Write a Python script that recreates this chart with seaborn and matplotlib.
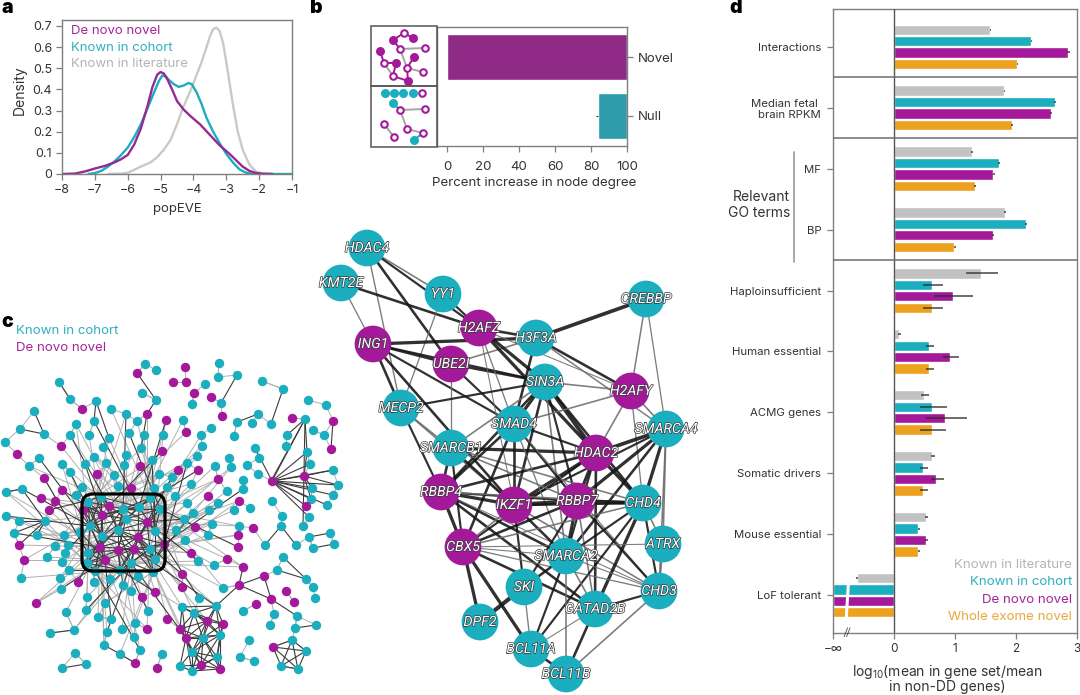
import numpy as np
import pandas as pd
import matplotlib
matplotlib.use('Agg')
import matplotlib.pyplot as plt
import matplotlib.patheffects as pe
from matplotlib.collections import LineCollection
from matplotlib.patches import FancyBboxPatch, Rectangle
import seaborn as sns

W, H = 1080, 695
TEXT = '#333333'
EDGE = '#7f7f7f'
GREY = '#c2c2c2'
TEAL = '#1aaebf'
MAGENTA = '#a3199a'
ORANGE = '#eca11f'

# panel a: density (popEVE, density)
novo_x = [-8, -7.6, -7.3, -7, -6.7, -6.4, -6.2, -6, -5.8, -5.6, -5.4, -5.25, -5.1, -5, -4.9, -4.8, -4.65, -4.5, -4.3, -4.1, -3.8, -3.5, -3.2, -2.9, -2.7, -2.5, -2.3, -2.1, -1.9, -1.6]
novo_y = [0, 0.002, 0.012, 0.026, 0.038, 0.055, 0.07, 0.09, 0.14, 0.215, 0.32, 0.41, 0.47, 0.482, 0.475, 0.45, 0.40, 0.345, 0.305, 0.275, 0.235, 0.185, 0.135, 0.095, 0.065, 0.035, 0.015, 0.005, 0.001, 0]
cohort_x = [-7.2, -7, -6.8, -6.6, -6.4, -6.2, -6, -5.8, -5.6, -5.4, -5.2, -5.05, -4.95, -4.85, -4.75, -4.6, -4.45, -4.3, -4.15, -4.05, -3.9, -3.75, -3.6, -3.4, -3.2, -3, -2.8, -2.6, -2.4, -2.2, -1.9, -1]
cohort_y = [0, 0.004, 0.015, 0.035, 0.06, 0.09, 0.125, 0.175, 0.235, 0.31, 0.385, 0.44, 0.465, 0.462, 0.445, 0.425, 0.412, 0.418, 0.43, 0.425, 0.385, 0.33, 0.265, 0.2, 0.145, 0.095, 0.055, 0.022, 0.006, 0.001, 0, 0]
lit_x = [-6.6, -6.2, -6, -5.8, -5.6, -5.3, -5.1, -4.9, -4.7, -4.5, -4.3, -4.1, -3.9, -3.75, -3.6, -3.5, -3.4, -3.3, -3.2, -3.1, -3, -2.9, -2.8, -2.65, -2.5, -2.3, -2.1, -1.9, -1.6]
lit_y = [0, 0.002, 0.006, 0.02, 0.035, 0.055, 0.08, 0.115, 0.16, 0.235, 0.32, 0.39, 0.47, 0.53, 0.6, 0.65, 0.685, 0.692, 0.675, 0.62, 0.53, 0.43, 0.33, 0.2, 0.115, 0.045, 0.012, 0.003, 0]

# panel b
degree_sets = ['Novel', 'Null']
degree_start = [0, 84]
degree_span = [100, 16]

# panel d
features = ['Interactions', 'Median fetal \nbrain RPKM', 'MF', 'BP', 'Haploinsufficient',
            'Human essential', 'ACMG genes', 'Somatic drivers', 'Mouse essential', 'LoF tolerant']
gene_sets = ['Known in literature', 'Known in cohort', 'De novo novel', 'Whole exome novel']
lit_val = [1.58, 1.81, 1.28, 1.82, 1.43, 0.09, 0.49, 0.63, 0.53, -0.60]
cohort_val = [2.25, 2.645, 1.72, 2.16, 0.62, 0.57, 0.63, 0.48, 0.40, -1.0]
novo_val = [2.85, 2.57, 1.63, 1.62, 0.96, 0.92, 0.84, 0.69, 0.52, -1.0]
wes_val = [2.02, 1.93, 1.32, 0.99, 0.62, 0.57, 0.63, 0.48, 0.40, -1.0]
lit_low = [1.57, 1.81, 1.27, 1.81, 1.18, 0.07, 0.44, 0.61, 0.51, -0.615]
lit_high = [1.59, 1.82, 1.29, 1.84, 1.70, 0.12, 0.57, 0.67, 0.55, -0.595]
cohort_low = [2.24, 2.63, 1.71, 2.15, 0.47, 0.52, 0.42, 0.42, 0.39, -1.0]
cohort_high = [2.27, 2.66, 1.73, 2.18, 0.80, 0.66, 0.87, 0.56, 0.42, -1.0]
novo_low = [2.84, 2.56, 1.62, 1.61, 0.66, 0.80, 0.52, 0.61, 0.50, -1.0]
novo_high = [2.88, 2.59, 1.65, 1.64, 1.29, 1.07, 1.20, 0.82, 0.56, -1.0]
wes_low = [2.01, 1.92, 1.31, 0.98, 0.47, 0.52, 0.43, 0.43, 0.39, -1.0]
wes_high = [2.04, 1.95, 1.34, 1.01, 0.80, 0.66, 0.85, 0.56, 0.42, -1.0]

# panel c nodes, figure pixels (x, y). Entries closer than 4 px are one node.
c_teal = [(145,364),(156,370),(59,382),(70,399),(96,401),(142,393),(156,400),(34,411),(111,409),(126,414),(137,421),
    (76,424),(94,421),(20,429),(44,434),(70,435),(89,435),(109,438),(129,433),(144,435),(163,435),(5,442),(103,447),
    (141,448),(39,458),(94,457),(126,455),(152,460),(29,466),(62,464),(85,464),(106,463),(124,465),(70,472),(114,475),
    (159,474),(172,477),(82,487),(118,486),(154,488),(167,487),(6,492),(22,489),(76,495),(101,497),(150,498),(175,496),
    (219,363),(218,377),(237,375),(205,384),(262,381),(283,389),(308,400),(192,404),(221,403),(326,405),(258,414),
    (183,420),(237,422),(252,423),(271,424),(305,419),(313,430),(324,435),(211,428),(201,435),(234,436),(287,435),
    (286,446),(202,446),(255,448),(307,452),(197,456),(229,458),(259,458),(310,464),(187,463),(215,466),(231,467),
    (247,465),(258,474),(333,470),(338,485),(243,480),(191,484),(243,489),(312,488),(333,495),(311,499),(227,491),
    (176,496),(272,501),(327,505),(187,503),(218,503),(250,508),(234,510),(209,510),(193,513),(282,516),(309,517),
    (184,519),(212,524),(239,526),(281,526),(303,526),(176,530),
    (6,516),(19,521),(45,521),(14,533),(37,535),(64,535),(80,532),(55,546),(68,545),(65,553),(47,557),(62,562),(69,570),
    (21,578),(60,578),(61,589),(87,597),(66,612),(86,610),(98,617),(105,603),(111,619),(94,582),(110,579),(123,585),
    (131,591),(138,576),(153,572),(148,611),(135,623),(122,629),(107,632),(134,637),(74,630),(50,633),(104,645),
    (120,654),(140,650),(75,653),(86,664),(62,668),(162,654),(180,666),(192,671),(192,652),(217,657),(240,657),
    (254,661),(281,666),(298,669),(306,651),(292,640),(249,640),(220,635),(203,638),(270,625),(295,628),(316,625),
    (274,614),(297,616),(243,611),(216,606),(194,613),(182,607),(199,598),(223,588),(214,565),(198,561),(185,540),
    (208,535),(213,524),(265,545),(296,545),(309,537),(330,533),(313,548),(334,544),(283,557),(277,570),(306,579),
    (313,587),(315,598),
    (123,509),(139,507),(160,509),(126,519),(90,526),(118,530),(155,531),(63,535),(102,536),(88,553),(150,549),
    (155,559),(131,563),(87,563),(95,571),(120,570),(154,570),(93,583),(88,502)]
c_magenta = [(137,373),(173,382),(82,409),(147,414),(166,420),(61,446),(17,454),(162,451),(140,466),(97,474),(44,478),
    (131,488),(178,470),(62,490),(41,498),(55,501),
    (185,367),(186,382),(194,393),(211,397),(222,416),(292,418),(333,421),(186,432),(331,449),(180,470),(198,470),
    (218,479),(304,476),(272,481),(208,496),(239,501),(306,506),(195,527),(253,528),
    (49,510),(19,545),(24,560),(78,582),(36,603),(142,597),(155,592),(167,619),(147,629),(135,663),(157,668),(180,629),
    (186,638),(207,621),(223,624),(201,665),(220,669),(273,647),(256,604),(271,599),(239,585),(264,576),(243,567),
    (227,559),(182,574),(182,587),(191,553),(238,547),(238,535),(286,591),(294,602),(164,544),
    (109,506),(83,510),(102,515),(147,522),(138,537),(100,547),(118,550),(134,549),(105,560)]

# panel c links that can be followed by eye: hub -> partners
c_fans = {
    (272,481): [(304,476),(310,464),(333,470),(338,485),(333,495),(327,505),(312,488),(311,499),(306,506),(307,452),(305,419),(309,517),(255,448)],
    (304,476): [(338,485),(333,470),(312,488),(311,499),(307,452)],
    (305,419): [(303,526),(307,452),(287,435),(271,481)],
    (45,521): [(19,521),(14,533),(19,545),(22,489),(37,535)],
    (273,647): [(292,640),(306,651),(281,666),(298,669)],
    (292,640): [(306,651),(281,666),(298,669)],
    (306,651): [(281,666),(298,669)],
    (281,666): [(298,669)],
    (265,545): [(281,526)],
    (281,526): [(296,545)],
    (283,557): [(306,579)],
    (277,570): [(306,579)],
    (264,576): [(239,585),(271,599)],
    (239,585): [(243,567),(271,599),(216,606)],
    (271,599): [(297,616)],
    (20,429): [(44,434)], (34,411): [(44,434)], (59,382): [(70,399)], (137,373): [(156,400)], (333,421): [(331,449)],
    (237,375): [(221,403)], (283,389): [(271,424)], (6,492): [(22,489)], (330,533): [(309,537)], (313,548): [(334,544)],
    (295,628): [(316,625)], (62,668): [(86,664)], (50,633): [(74,630)], (104,645): [(120,654)], (120,654): [(135,663)],
    (96,401): [(94,421),(109,438)], (147,414): [(141,448),(156,400)], (258,414): [(237,422)],
}

# panel b lower network
hub_names = ['HDAC4','KMT2E','YY1','CREBBP','H2AFZ','H3F3A','ING1','UBE2I','SIN3A','H2AFY','MECP2','SMAD4','SMARCA4',
             'SMARCB1','HDAC2','RBBP4','IKZF1','RBBP7','CHD4','ATRX','CBX5','SMARCA2','SKI','CHD3','GATAD2B','DPF2',
             'BCL11A','BCL11B']
hub_x = [367,341,443,646,479,536,373,451,545,631,401,514,666,451,596,441,514,577,643,663,463,566,524,659,595,480,531,566]
hub_y = [248,283,294,299,328,338,344,364,382,391,408,424,429,448,453,492,505,501,503,544,547,556,587,591,609,622,649,674]
hub_novel = ['H2AFZ','ING1','UBE2I','H2AFY','HDAC2','RBBP4','IKZF1','RBBP7','CBX5']
hub_links = [('HDAC4','YY1',1.5),('HDAC4','H2AFZ',2),('HDAC4','UBE2I',2.4),('HDAC4','MECP2',1.3),('KMT2E','H2AFZ',2.4),
    ('KMT2E','ING1',1.2),('YY1','H2AFZ',2),('YY1','MECP2',1.2),('H2AFZ','H3F3A',2.4),('CREBBP','H3F3A',3.4),
    ('CREBBP','H2AFY',1.4),('CREBBP','SMARCA4',1.2),('ING1','H3F3A',3),('ING1','UBE2I',2.4),('ING1','SIN3A',2),
    ('ING1','MECP2',2.4),('ING1','SMAD4',2),('ING1','IKZF1',2.4),('UBE2I','H3F3A',1.5),('UBE2I','SIN3A',2.4),
    ('UBE2I','SMAD4',2),('UBE2I','SMARCB1',1.2),('H2AFZ','SIN3A',3),('H2AFZ','SMAD4',1.2),('H2AFZ','HDAC2',3),
    ('H2AFZ','H2AFY',1),('H2AFZ','IKZF1',1),('H3F3A','SMAD4',2.4),('H3F3A','H2AFY',2.4),('H3F3A','SMARCA4',1.4),
    ('SIN3A','MECP2',2),('SIN3A','HDAC2',3.6),('SIN3A','SMAD4',3),('SIN3A','SMARCB1',1.5),('SIN3A','RBBP4',2.4),
    ('SIN3A','IKZF1',2.4),('SIN3A','RBBP7',2),('SIN3A','CHD4',2.4),('SIN3A','SMARCA2',1.5),('SIN3A','H2AFY',1.5),
    ('H2AFY','HDAC2',1.5),('H2AFY','SMARCA4',1.5),('H2AFY','SMAD4',1.5),('H2AFY','CHD4',1.2),('HDAC2','SMARCA4',3.4),
    ('HDAC2','SMAD4',2),('HDAC2','SMARCB1',3),('HDAC2','RBBP4',2.4),('HDAC2','IKZF1',3),('HDAC2','RBBP7',3),
    ('HDAC2','CHD4',3),('HDAC2','CBX5',2),('HDAC2','SMARCA2',2),('HDAC2','GATAD2B',2.4),('SMARCA4','CHD4',3),
    ('SMARCA4','RBBP7',3),('SMARCA4','SMARCA2',2.4),('SMARCA4','IKZF1',2),('SMARCA4','CHD3',1.5),('SMARCA4','ATRX',1.5),
    ('MECP2','RBBP4',2),('MECP2','SMARCB1',1.5),('MECP2','IKZF1',1.5),('SMARCB1','RBBP4',2.4),('SMARCB1','IKZF1',2.4),
    ('SMARCB1','CBX5',2),('SMARCB1','RBBP7',1.5),('SMARCB1','CHD4',1.5),('SMAD4','RBBP4',2.4),('SMAD4','CBX5',2.4),
    ('SMAD4','IKZF1',2.4),('SMAD4','RBBP7',2),('SMAD4','SMARCA2',1.2),('SMAD4','CHD3',1.2),('RBBP4','IKZF1',3),
    ('RBBP4','RBBP7',2),('RBBP4','CBX5',3),('RBBP4','CHD4',1.5),('RBBP4','SMARCA2',2.4),('RBBP4','GATAD2B',2.4),
    ('RBBP4','CHD3',1),('IKZF1','RBBP7',3.8),('IKZF1','CHD4',2.4),('IKZF1','SMARCA2',2.4),('IKZF1','SKI',2),
    ('IKZF1','CBX5',1.5),('IKZF1','CHD3',1.5),('RBBP7','CHD4',3.4),('RBBP7','CBX5',2.4),('RBBP7','SMARCA2',3),
    ('RBBP7','SKI',2),('RBBP7','CHD3',2),('RBBP7','GATAD2B',1.5),('CHD4','CBX5',1.5),('CHD4','SMARCA2',2),
    ('CHD4','GATAD2B',3),('CHD4','CHD3',2),('CHD4','BCL11A',2),('CBX5','ATRX',1),('CBX5','SMARCA2',1),('CBX5','CHD3',1.2),
    ('CBX5','DPF2',3),('CBX5','BCL11A',3),('CBX5','GATAD2B',2.4),('SKI','DPF2',3.8),('SKI','BCL11A',1.2),('SKI','SMARCA2',2.4),
    ('SMARCA2','BCL11A',2),('SMARCA2','BCL11B',1.5),('SMARCA2','GATAD2B',1.5),('SMARCA2','CHD3',1),('GATAD2B','CHD3',2),
    ('GATAD2B','BCL11A',1),('GATAD2B','BCL11B',2.4),('CHD3','BCL11B',1.5),('BCL11A','BCL11B',2.4),('ATRX','CHD4',1.5),
    ('ATRX','CHD3',1.5)]

# panel b sketches
top_open = [(404,33),(400,49),(425,48),(384,63),(407,68),(393,76),(423,72)]
top_full = [(413,38),(393,40),(380,51),(396,63),(414,57),(408,81)]
top_pink = [((404,33),(393,40)),((404,33),(413,38)),((393,40),(400,49)),((380,51),(384,63)),((384,63),(396,63)),
            ((396,63),(393,76)),((407,68),(414,57)),((407,68),(408,81)),((393,76),(408,81))]
top_grey = [((400,49),(425,48)),((400,49),(407,68)),((384,63),(393,76)),((407,68),(423,72))]
low_open = [(422,93),(400,110),(425,109),(407,129),(423,133),(384,124),(394,137)]
low_full = [(385,93),(394,93),(403,93),(413,93),(393,103),(414,140)]
low_teal = [((393,103),(400,110)),((414,140),(423,133))]
low_grey = [((400,110),(425,109)),((400,110),(407,129)),((407,129),(423,133)),((384,124),(394,137))]

sns.set_theme(style='ticks')
plt.rcParams['font.family'] = ['Inter', 'DejaVu Sans']
plt.rcParams['mathtext.fontset'] = 'custom'
plt.rcParams['mathtext.rm'] = 'Inter'
plt.rcParams['axes.edgecolor'] = EDGE
plt.rcParams['axes.linewidth'] = 1.0
plt.rcParams['text.color'] = TEXT
plt.rcParams['xtick.color'] = EDGE
plt.rcParams['ytick.color'] = EDGE
plt.rcParams['xtick.labelcolor'] = TEXT
plt.rcParams['ytick.labelcolor'] = TEXT

fig = plt.figure(figsize=(W / 100, H / 100), dpi=100)


def px_axes(left, top, right, bottom):
    return fig.add_axes([left / W, 1 - bottom / H, (right - left) / W, (bottom - top) / H])


# whole-figure layer in pixel coordinates for the networks and loose text
page = fig.add_axes([0, 0, 1, 1], zorder=10)
page.set_facecolor('none')
page.axis('off')


def note(x, y, s, size=9.5, color=TEXT, ha='left', va='center', **kw):
    page.text(x, y, s, fontsize=size, color=color, ha=ha, va=va, **kw)


def merged(points):
    kept = []
    for p in points:
        if all(np.hypot(p[0] - q[0], p[1] - q[1]) >= 4 for q in kept):
            kept.append(p)
    return kept


def nodes(points, color, size, open_node=False, zorder=4):
    xs, ys = zip(*points)
    if open_node:
        sns.scatterplot(x=list(xs), y=list(ys), ax=page, s=size, color='white', edgecolor=color,
                        linewidth=1.5, zorder=zorder, legend=False)
    else:
        sns.scatterplot(x=list(xs), y=list(ys), ax=page, s=size, color=color, linewidth=0, zorder=zorder, legend=False)


# ---- a ----
ax_a = px_axes(62, 20, 292, 174)
sns.lineplot(x=lit_x, y=lit_y, color='#c9c9c9', lw=1.7, ax=ax_a, estimator=None)
sns.lineplot(x=cohort_x, y=cohort_y, color=TEAL, lw=1.7, ax=ax_a, estimator=None)
sns.lineplot(x=novo_x, y=novo_y, color='#962a92', lw=1.7, ax=ax_a, estimator=None)
ax_a.set_xlim(-8, -1)
ax_a.set_ylim(0, 0.728)
ax_a.set_yticks(np.arange(0, 0.71, 0.1), ['0', '0.1', '0.2', '0.3', '0.4', '0.5', '0.6', '0.7'])
ax_a.set_xticks(range(-8, 0), ['\u2212%d' % abs(v) for v in range(-8, 0)])
ax_a.tick_params(labelsize=9, length=4, width=0.9, pad=3)
ax_a.set_xlabel('')
ax_a.set_ylabel('')
note(177, 209, 'popEVE', ha='center', size=9.5)
note(20, 90, 'Density', ha='center', rotation=90, size=10)
note(71, 31, 'De novo novel', color='#a4259a', size=9.5)
note(71, 48, 'Known in cohort', color='#2fb0bf', size=9.5)
note(71, 64, 'Known in literature', color='#b4b4b4', size=9.5)

# ---- b ----
ax_b = px_axes(437, 27, 627, 146)
sns.barplot(x=degree_span, y=degree_sets, hue=degree_sets, palette=['#8f2a87', '#2f9cab'], width=0.78,
            saturation=1, legend=False, ax=ax_b)
for bar, start in zip([c[0] for c in ax_b.containers], degree_start):
    bar.set_x(start)
ax_b.hlines(1, 83, 84, color=TEXT, lw=0.8)
ax_b.set_xlim(-5.5, 100)
ax_b.set_ylim(1.51, -0.51)
ax_b.yaxis.tick_right()
ax_b.set_xticks(range(0, 101, 20))
ax_b.tick_params(labelsize=9.5, length=4.5, width=0.9, pad=3)
ax_b.tick_params(axis='x', pad=6)
note(534, 183, 'Percent increase in node degree', ha='center', size=9.6)

page.add_patch(Rectangle((371, 26), 66, 60, fc='none', ec='#555555', lw=1.1, zorder=6))
page.add_patch(Rectangle((371, 86), 66, 61, fc='none', ec='#555555', lw=1.1, zorder=6))
page.add_collection(LineCollection(top_grey + low_grey, colors='#a5a5a5', linewidths=1.4, zorder=3))
page.add_collection(LineCollection(top_pink, colors=MAGENTA, linewidths=1.4, zorder=3))
page.add_collection(LineCollection(low_teal, colors=TEAL, linewidths=1.4, zorder=3))
nodes(top_full, MAGENTA, 42)
nodes(top_open, MAGENTA, 22, open_node=True)
nodes(low_full, TEAL, 42)
nodes(low_open, MAGENTA, 22, open_node=True)

# ---- b lower network ----
hub_pos = dict(zip(hub_names, zip(hub_x, hub_y)))
for a, b, w in hub_links:
    shade = '#141414' if w >= 1.8 else '#6a6a6a'
    page.plot([hub_pos[a][0], hub_pos[b][0]], [hub_pos[a][1], hub_pos[b][1]], color=shade, lw=w * 0.78,
              alpha=0.88, zorder=1, solid_capstyle='butt')
hub_table = pd.DataFrame({'x': hub_x, 'y': hub_y, 'name': hub_names})
hub_table['kind'] = np.where(hub_table['name'].isin(hub_novel), 'novel', 'known')
sns.scatterplot(data=hub_table, x='x', y='y', hue='kind', palette={'novel': MAGENTA, 'known': TEAL}, s=700,
                linewidth=0, legend=False, ax=page, zorder=2)
outline = [pe.withStroke(linewidth=1.0, foreground='#3a3a3a')]
for name, x, y in zip(hub_names, hub_x, hub_y):
    page.text(x, y, name, color='white', fontsize=10.2, style='italic', ha='center', va='center', zorder=3,
              family=['Roboto', 'DejaVu Sans'], path_effects=outline)

# ---- c ----
teal_nodes = merged(c_teal)
pink_nodes = merged(c_magenta)
all_nodes = np.array(teal_nodes + pink_nodes, dtype=float)
in_box = (all_nodes[:, 0] > 80) & (all_nodes[:, 0] < 168) & (all_nodes[:, 1] > 490) & (all_nodes[:, 1] < 575)
core = all_nodes[in_box]
strong, faint = [], []
for hub, partners in c_fans.items():
    strong += [(hub, p) for p in partners]
for i in range(len(core)):
    for j in range(i + 1, len(core)):
        if np.hypot(*(core[i] - core[j])) < 40:
            (strong if (i + j) % 3 else faint).append((tuple(core[i]), tuple(core[j])))
# the dense lower cluster
cluster = all_nodes[(all_nodes[:, 0] > 178) & (all_nodes[:, 0] < 226) & (all_nodes[:, 1] > 600) & (all_nodes[:, 1] < 672)]
for i in range(len(cluster)):
    for j in range(i + 1, len(cluster)):
        if np.hypot(*(cluster[i] - cluster[j])) < 36:
            strong.append((tuple(cluster[i]), tuple(cluster[j])))
# nodes around the box send long links into it
for n, p in enumerate(all_nodes[~in_box]):
    d = np.hypot(*(all_nodes - p).T)
    nearest = all_nodes[np.argsort(d)[1]]
    if d[np.argsort(d)[1]] < 38:
        faint.append((tuple(p), tuple(nearest)))
    reach = np.hypot(p[0] - 125, p[1] - 530)
    if reach < 125:
        order = np.argsort(np.hypot(*(core - p).T))
        (strong if n % 3 == 0 else faint).append((tuple(p), tuple(core[order[min(n % 7 + 2, len(core) - 1)]])))
        if n % 2:
            faint.append((tuple(p), tuple(core[order[min(n % 5 + 8, len(core) - 1)]])))
page.add_collection(LineCollection(faint, colors='#b0b0b0', linewidths=0.7, zorder=1))
page.add_collection(LineCollection(strong, colors='#3c3c3c', linewidths=0.8, zorder=1))
nodes(teal_nodes, TEAL, 46, zorder=2)
nodes(pink_nodes, MAGENTA, 46, zorder=2)
page.add_patch(FancyBboxPatch((89, 501), 69, 63, boxstyle='round,pad=7,rounding_size=11', fc='none', ec='black',
                              lw=2.3, zorder=3))
note(16, 331, 'Known in cohort', color='#2fb0bf', size=9.6)
note(16, 348, 'De novo novel', color='#a4259a', size=9.6)

# ---- d ----
ax_d = px_axes(833, 9, 1077, 633)
rows = pd.DataFrame({
    'feature': features * 4,
    'gene_set': np.repeat(gene_sets, len(features)),
    'value': lit_val + cohort_val + novo_val + wes_val,
})
sns.barplot(data=rows, x='value', y='feature', hue='gene_set', order=features, hue_order=gene_sets,
            palette=[GREY, TEAL, MAGENTA, ORANGE], width=0.75, gap=0.1, saturation=1, legend=False, ax=ax_d)
lows = [lit_low, cohort_low, novo_low, wes_low]
highs = [lit_high, cohort_high, novo_high, wes_high]
for group, lo, hi in zip(ax_d.containers, lows, highs):
    for bar, a, b in zip(group, lo, hi):
        if a > -1:
            y = bar.get_y() + bar.get_height() / 2
            ax_d.hlines(y, a, b, color='#303030', lw=1.1, alpha=0.9, zorder=5)
ax_d.set_xlim(-1, 3)
ax_d.set_ylim(9.62, -0.62)
ax_d.axvline(0, color='#555555', lw=1.0, zorder=6)
for sep in [0.5, 1.5, 3.5]:
    ax_d.axhline(sep, color='#6e6e6e', lw=1.1, zorder=6)
# break in the clipped LoF bars
ax_d.fill([-0.765, -0.715, -0.765, -0.815], [8.68, 8.68, 9.5, 9.5], color='white', lw=0, zorder=4)
ax_d.text(-0.77, 9.62, '//', fontsize=7, style='italic', ha='center', va='center', color=TEXT, zorder=7)
ax_d.set_xticks([-1, 0, 1, 2, 3], ['\u2212\u221e', '0', '1', '2', '3'])
ax_d.tick_params(labelsize=8.5, length=4.5, width=0.9, pad=3)
ax_d.tick_params(axis='y', labelsize=8.2, pad=4)
for label in ax_d.get_yticklabels():
    label.set_multialignment('right')
ax_d.set_xlabel('')
ax_d.set_ylabel('')
page.plot([794, 794], [152, 262], color='#9a9a9a', lw=1.2)
note(790, 205, 'Relevant\nGO terms', ha='right', size=10, multialignment='right', linespacing=1.15)
note(947, 672, 'log$_{10}$(mean in gene set/mean', ha='center', size=10)
note(947, 687, 'in non-DD genes)', ha='center', size=10)
for y, label, color in zip([565, 582, 600, 617], gene_sets, ['#b4b4b4', '#2fb0bf', '#a4259a', '#e9a83b']):
    note(1072, y, label, color=color, size=9.6, ha='right', zorder=8)

for x, y, letter in [(1, 8, 'a'), (310, 8, 'b'), (1, 322, 'c'), (729, 8, 'd')]:
    note(x, y, letter, size=14, color='black', fontweight='black')

page.set_xlim(0, W)
page.set_ylim(H, 0)
fig.savefig('out.png', dpi=100)
